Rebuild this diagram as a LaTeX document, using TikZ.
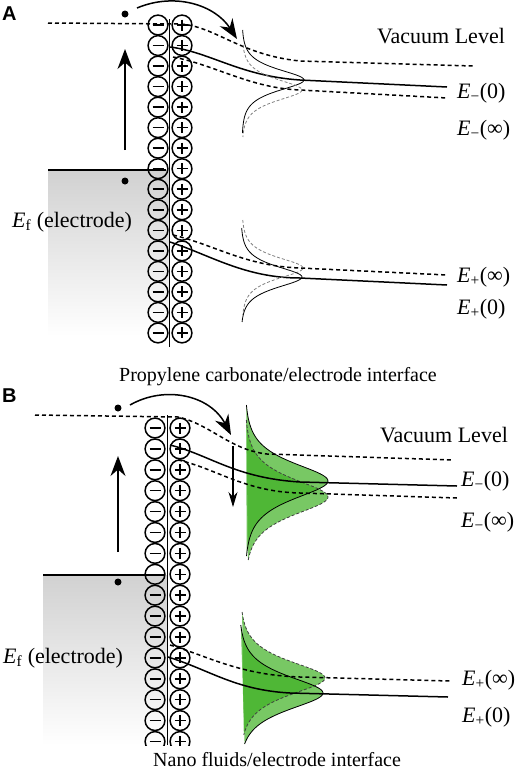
\documentclass[tikz,border=0pt]{standalone}
\usepackage{fontspec}
\setmainfont{Liberation Serif}
\newfontfamily\labsans{Liberation Sans}
\usetikzlibrary{arrows.meta}
\definecolor{gfill}{RGB}{62,176,34}
\begin{document}
\begin{tikzpicture}[x=1pt,y=-1pt,
  lvl/.style={line width=1.5pt},
  dlvl/.style={line width=1.5pt, dash pattern=on 4pt off 3pt},
  gsol/.style={line width=0.8pt},
  gdash/.style={line width=0.8pt, gray, dash pattern=on 3pt off 2pt},
  gdashB/.style={line width=0.8pt, black!75, dash pattern=on 3pt off 2pt},
  gfil/.style={fill=gfill, fill opacity=0.7},
  ion/.style={line width=1.5pt},
  big/.style={line width=1.5pt, -{Stealth[length=20pt,width=15pt]}},
  small/.style={line width=1.1pt, -{Stealth[length=15pt,width=9pt]}},
  lab/.style={inner sep=0pt, font=\fontsize{22}{26}\selectfont},
  captxt/.style={inner sep=0pt, font=\fontsize{20}{24}\selectfont},
  pan/.style={inner sep=0pt, font=\labsans\bfseries\fontsize{20}{22}\selectfont},
  dot/.style={fill=black}
]
\useasboundingbox (0,0) rectangle (526,769);

% ================= Panel A =================
\node[pan, anchor=base west] (pA) at (2,20) {A};
\shade[top color=black!18, bottom color=white] (48,170) rectangle (169,336);
\draw[lvl] (48,170) -- (166,170);
\fill[dot] (125,181) circle (3.5);
\fill[dot] (125,14) circle (3.5);
% ions
\draw[line width=1pt] (169.5,19) -- (169.5,347);
\foreach \i in {0,...,15}{
  \pgfmathsetmacro{\yy}{25+20.53*\i}
  \draw[ion] (158,\yy) circle (9.9);
  \draw[ion] (152.5,\yy) -- (163.5,\yy);
  \draw[ion] (182,\yy) circle (9.9);
  \draw[ion] (176.5,\yy) -- (187.5,\yy);
  \draw[ion] (182,\yy-5.5) -- (182,\yy+5.5);
}
% levels
\draw[dlvl] (48,23) -- (180,24) .. controls (215,26) and (240,55) .. (300,61) -- (473,66);
\draw[lvl] (170,47) .. controls (210,52) and (240,76) .. (300,80) -- (447,87);
\draw[dlvl] (173,57) .. controls (215,65) and (250,88) .. (300,90) -- (447,98);
\draw[dlvl] (173,235) .. controls (215,245) and (245,266) .. (300,268) -- (447,275);
\draw[lvl] (170,242) .. controls (210,255) and (245,278) .. (300,278) -- (447,285);
% gaussians A
\draw[gsol] plot[domain=30:133, samples=90, variable=\t] ({242+62/cosh((\t-80)/9.5)}, \t);
\draw[gdash] plot[domain=45:137, samples=90, variable=\t] ({242+60/cosh((\t-90)/9.5)}, \t);
\draw[gdash] plot[domain=220:315, samples=90, variable=\t] ({242+61/cosh((\t-268)/9.5)}, \t);
\draw[gsol] plot[domain=228:322, samples=90, variable=\t] ({241+61/cosh((\t-277)/9.5)}, \t);
% arrows
\draw[big] (125,150) -- (125,49);
\draw[big] (137,8) .. controls (175,-8) and (215,5) .. (237,39);
% labels
\node[lab, anchor=base west] (vacA) at (377,43) {Vacuum Level};
\node[lab, anchor=base west] (em0A) at (457,98) {\textit{E}\textsubscript{−}(0)};
\node[lab, anchor=base west] (emiA) at (457,135) {\textit{E}\textsubscript{−}(∞)};
\node[lab, anchor=base west] (epiA) at (457,282) {\textit{E}\textsubscript{+}(∞)};
\node[lab, anchor=base west] (ep0A) at (457,314) {\textit{E}\textsubscript{+}(0)};
\node[lab, anchor=base west] (efA) at (12,227) {\textit{E}\textsubscript{f} (electrode)};
\node[captxt, anchor=base] (capA) at (278,381) {Propylene carbonate/electrode interface};

% ================= Panel B =================
\node[pan, anchor=base west] (pB) at (2,402) {B};
\shade[top color=black!18, bottom color=white] (43,575) rectangle (167,745);
\draw[lvl] (43,575) -- (164,575);
\fill[dot] (118,582) circle (3.5);
\fill[dot] (118,408) circle (3.5);
\draw[line width=1pt] (167,415) -- (167,745);
\begin{scope}
\clip (100,410) rectangle (220,745);
\foreach \i in {0,...,15}{
  \pgfmathsetmacro{\yy}{428+20.9*\i}
  \draw[ion] (155,\yy) circle (9.9);
  \draw[ion] (149.5,\yy) -- (160.5,\yy);
  \draw[ion] (180,\yy) circle (9.9);
  \draw[ion] (174.5,\yy) -- (185.5,\yy);
  \draw[ion] (180,\yy-5.5) -- (180,\yy+5.5);
}
\end{scope}
% gaussians B (filled)
\fill[gfil] plot[domain=405:556, samples=100, variable=\t] ({245+83/cosh((\t-481)/16)}, \t) -- cycle;
\fill[gfil] plot[domain=420:561, samples=100, variable=\t] ({245+83/cosh((\t-497)/16)}, \t) -- cycle;
\fill[gfil] plot[domain=612:735, samples=100, variable=\t] ({240+85/cosh((\t-678)/15)}, \t) -- cycle;
\fill[gfil] plot[domain=625:744, samples=100, variable=\t] ({239+84/cosh((\t-693)/15)}, \t) -- cycle;
\draw[gsol] plot[domain=405:556, samples=100, variable=\t] ({245+83/cosh((\t-481)/16)}, \t);
\draw[gdashB] plot[domain=420:561, samples=100, variable=\t] ({245+83/cosh((\t-497)/16)}, \t);
\draw[gdashB] plot[domain=612:735, samples=100, variable=\t] ({240+85/cosh((\t-678)/15)}, \t);
\draw[gsol] plot[domain=625:744, samples=100, variable=\t] ({239+84/cosh((\t-693)/15)}, \t);
% levels
\draw[dlvl] (35,415) -- (178,417) .. controls (210,424) and (230,450) .. (267,454) -- (453,460);
\draw[lvl] (170,445) .. controls (210,455) and (235,478) .. (300,482) -- (457,486);
\draw[dlvl] (178,460) .. controls (215,468) and (245,492) .. (300,493) -- (457,498);
\draw[dlvl] (170,645) .. controls (210,657) and (240,675) .. (300,677) -- (450,681);
\draw[lvl] (168,657) .. controls (210,670) and (235,690) .. (290,693) -- (448,697);
% arrows
\draw[big] (118,552) -- (118,456);
\draw[big] (130,405) .. controls (165,385) and (210,395) .. (231,435);
\draw[small] (233,446) -- (233,507);
% labels
\node[lab, anchor=base west] (vacB) at (380,442) {Vacuum Level};
\node[lab, anchor=base west] (em0B) at (461,486) {\textit{E}\textsubscript{−}(0)};
\node[lab, anchor=base west] (emiB) at (461,527) {\textit{E}\textsubscript{−}(∞)};
\node[lab, anchor=base west] (epiB) at (462,685) {\textit{E}\textsubscript{+}(∞)};
\node[lab, anchor=base west] (ep0B) at (462,722) {\textit{E}\textsubscript{+}(0)};
\node[lab, anchor=base west] (efB) at (3,663) {\textit{E}\textsubscript{f} (electrode)};
\node[captxt, anchor=base west] (capB) at (153,766) {Nano fluids/electrode interface};
\end{tikzpicture}
\end{document}
